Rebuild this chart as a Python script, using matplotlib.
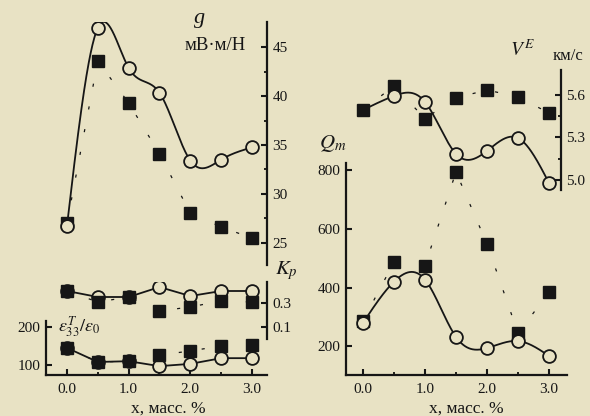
import numpy as np
import matplotlib
matplotlib.use('Agg')
import matplotlib.pyplot as plt
from matplotlib.ticker import FixedLocator, FixedFormatter

# ---------------- data ----------------
x = [0.0, 0.5, 1.0, 1.5, 2.0, 2.5, 3.0]
g_open = [26.7, 47.0, 42.9, 40.35, 33.4, 33.5, 34.75]
g_fill = [27.0, 43.6, 39.3, 34.1, 28.0, 26.6, 25.45]
kp_open = [0.40, 0.35, 0.35, 0.433, 0.358, 0.40, 0.40]
kp_fill = [0.40, 0.308, 0.35, 0.233, 0.267, 0.317, 0.308]
eps_open = [145, 108, 110, 97, 103, 118, 118]
eps_fill = [145, 108, 110, 126, 137, 150, 153]
q_open = [279, 420, 427, 231, 193, 217, 166]
q_fill = [286, 487, 475, 795, 549, 244, 383]
v_open = [5.494, 5.593, 5.551, 5.184, 5.205, 5.296, 4.979]
v_fill = [5.494, 5.664, 5.433, 5.579, 5.635, 5.586, 5.473]

x_ticks = [0, 1, 2, 3]
x_ticklabels = ['0.0', '1.0', '2.0', '3.0']
g_ticks = [25, 30, 35, 40, 45]
g_ticklabels = ['25', '30', '35', '40', '45']
kp_ticks = [0.1, 0.3]
kp_ticklabels = ['0.1', '0.3']
eps_ticks = [100, 200]
eps_ticklabels = ['100', '200']
q_ticks = [200, 400, 600, 800]
q_ticklabels = ['200', '400', '600', '800']
v_ticks = [5.0, 5.3, 5.6]
v_ticklabels = ['5.0', '5.3', '5.6']

# ---------------- style ----------------
BG = '#E8E2C4'
INK = '#161616'
plt.rcParams['font.family'] = ['Liberation Serif', 'DejaVu Serif']
plt.rcParams['mathtext.fontset'] = 'stix'

W, H = 590, 416
fig = plt.figure(figsize=(W / 100, H / 100), dpi=100, facecolor=BG)


def ax_at(x0, y0, x1, y1):
    ax = fig.add_axes([x0 / W, 1 - y1 / H, (x1 - x0) / W, (y1 - y0) / H])
    ax.set_facecolor('none')
    for s in ax.spines.values():
        s.set_visible(False)
        s.set_linewidth(1.6)
        s.set_color(INK)
    ax.tick_params(colors=INK, labelcolor=INK, labelsize=11)
    return ax


def natural_spline(xs, ys, n=400):
    xs = np.asarray(xs, float)
    ys = np.asarray(ys, float)
    m = len(xs)
    h = np.diff(xs)
    A = np.zeros((m, m))
    b = np.zeros(m)
    A[0, 0] = A[-1, -1] = 1
    for i in range(1, m - 1):
        A[i, i - 1] = h[i - 1]
        A[i, i] = 2 * (h[i - 1] + h[i])
        A[i, i + 1] = h[i]
        b[i] = 3 * ((ys[i + 1] - ys[i]) / h[i] - (ys[i] - ys[i - 1]) / h[i - 1])
    c = np.linalg.solve(A, b)
    xx = np.linspace(xs[0], xs[-1], n)
    idx = np.clip(np.searchsorted(xs, xx) - 1, 0, m - 2)
    dx = xx - xs[idx]
    bc = (ys[1:] - ys[:-1]) / h - h * (2 * c[:-1] + c[1:]) / 3
    dc = (c[1:] - c[:-1]) / (3 * h)
    yy = ys[idx] + bc[idx] * dx + c[idx] * dx ** 2 + dc[idx] * dx ** 3
    return xx, yy


OPEN = dict(marker='o', ms=9.2, mfc=BG, mec=INK, mew=1.3, ls='none')
FILL = dict(marker='s', ms=8.3, mfc=INK, mec=INK, ls='none')
DASH = dict(color=INK, lw=0.9, ls=(0, (2.5, 16)))
SOLID = dict(color=INK, lw=1.3)


def setup_x(ax, ticks=True, xl=None):
    ax.set_xlim(*xl)
    if ticks:
        ax.spines['bottom'].set_visible(True)
        ax.xaxis.set_major_locator(FixedLocator(x_ticks))
        ax.xaxis.set_major_formatter(FixedFormatter(x_ticklabels))
        ax.set_xticks([0.5, 1.5, 2.5], minor=True)
        ax.tick_params(axis='x', which='major', direction='in', length=4, width=1.5, pad=6)
        ax.tick_params(axis='x', which='minor', direction='in', length=2, width=1.2)
    else:
        ax.set_xticks([])


def setup_y(ax, side, ticks, labels, lim):
    ax.set_ylim(*lim)
    ax.spines[side].set_visible(True)
    if side == 'right':
        ax.yaxis.tick_right()
    ax.yaxis.set_major_locator(FixedLocator(ticks))
    ax.yaxis.set_major_formatter(FixedFormatter(labels))
    ax.tick_params(axis='y', which='major', direction='in', length=4, width=1.5, pad=4)


XL_LEFT = (-0.340, 3.243)
XL_RIGHT_Q = (-0.274, 3.290)
XL_RIGHT_V = (-0.274, 3.194)

# ---- g panel ----
ax_g = ax_at(46, 22, 267, 265)
setup_x(ax_g, ticks=False, xl=XL_LEFT)
setup_y(ax_g, 'right', g_ticks, g_ticklabels, (22.7, 47.6))
ax_g.set_yticks([27.5, 32.5, 37.5, 42.5], minor=True)
ax_g.tick_params(axis='y', which='minor', direction='in', length=2, width=1.2)
ax_g.plot(x, g_fill, **DASH, zorder=2)
ax_g.plot(x, g_fill, **FILL, zorder=3)
xs, ys = natural_spline(x, g_open)
ax_g.plot(xs, ys, **SOLID, zorder=4)
ax_g.plot(x, g_open, **OPEN, zorder=5)

# ---- Kp panel ----
ax_k = ax_at(46, 282, 267, 339)
setup_x(ax_k, ticks=False, xl=XL_LEFT)
setup_y(ax_k, 'right', kp_ticks, kp_ticklabels, (0.0, 0.475))
ax_k.plot(x, kp_fill, **DASH, zorder=2)
ax_k.plot(x, kp_open, **SOLID, zorder=3)
ax_k.plot(x, kp_open, **OPEN, zorder=4)
ax_k.plot(x, kp_fill, **FILL, zorder=5)

# ---- eps panel ----
ax_e = ax_at(46, 321, 267, 375)
setup_x(ax_e, ticks=True, xl=XL_LEFT)
setup_y(ax_e, 'left', eps_ticks, eps_ticklabels, (73.7, 215.8))
ax_e.plot(x, eps_fill, **DASH, zorder=2)
ax_e.plot(x, eps_open, **SOLID, zorder=3)
ax_e.plot(x, eps_open, **OPEN, zorder=4)
ax_e.plot(x, eps_fill, **FILL, zorder=5)

# ---- Q panel ----
ax_q = ax_at(346, 163, 567, 375)
setup_x(ax_q, ticks=True, xl=XL_RIGHT_Q)
setup_y(ax_q, 'left', q_ticks, q_ticklabels, (100.9, 825.6))
ax_q.plot(x, q_fill, **DASH, zorder=2)
ax_q.plot(x, q_fill, **FILL, zorder=3)
xs, ys = natural_spline(x, q_open)
ax_q.plot(xs, ys, **SOLID, zorder=4)
ax_q.plot(x, q_open, **OPEN, zorder=5)

# ---- V panel ----
ax_v = ax_at(346, 70, 561, 190)
setup_x(ax_v, ticks=False, xl=XL_RIGHT_V)
setup_y(ax_v, 'right', v_ticks, v_ticklabels, (4.929, 5.776))
ax_v.set_yticks([5.15, 5.45], minor=True)
ax_v.tick_params(axis='y', which='minor', direction='in', length=2, width=1.2)
ax_v.plot(x, v_fill, **DASH, zorder=2)
xs, ys = natural_spline(x, v_open)
ax_v.plot(xs, ys, **SOLID, zorder=3)
ax_v.plot(x, v_fill, **FILL, zorder=4)
ax_v.plot(x, v_open, **OPEN, markevery=slice(1, None), zorder=5)


# ---------------- labels ----------------
def ftext(px, py, s, **kw):
    fig.text(px / W, 1 - py / H, s, color=INK, **kw)


ftext(200, 18, 'g', fontsize=16, style='italic', ha='center', va='center')
ftext(215, 45, 'мВ·м/Н', fontsize=13.5, ha='center', va='center')
ftext(286, 271, r'$K_p$', fontsize=15, ha='center', va='center')
ftext(58, 327, r'$\varepsilon_{33}^{T}/\varepsilon_0$', fontsize=13, ha='left', va='center')
ftext(333, 143, r'$Q_m$', fontsize=15, ha='center', va='center')
ftext(522, 50, r'$V^E$', fontsize=14, ha='center', va='center')
ftext(553, 56, 'км/с', fontsize=12, ha='left', va='center')
ftext(168, 409, 'x, масс. %', fontsize=12.5, ha='center', va='center')
ftext(466, 409, 'x, масс. %', fontsize=12.5, ha='center', va='center')

fig.savefig('out.png', dpi=100, facecolor=BG)
